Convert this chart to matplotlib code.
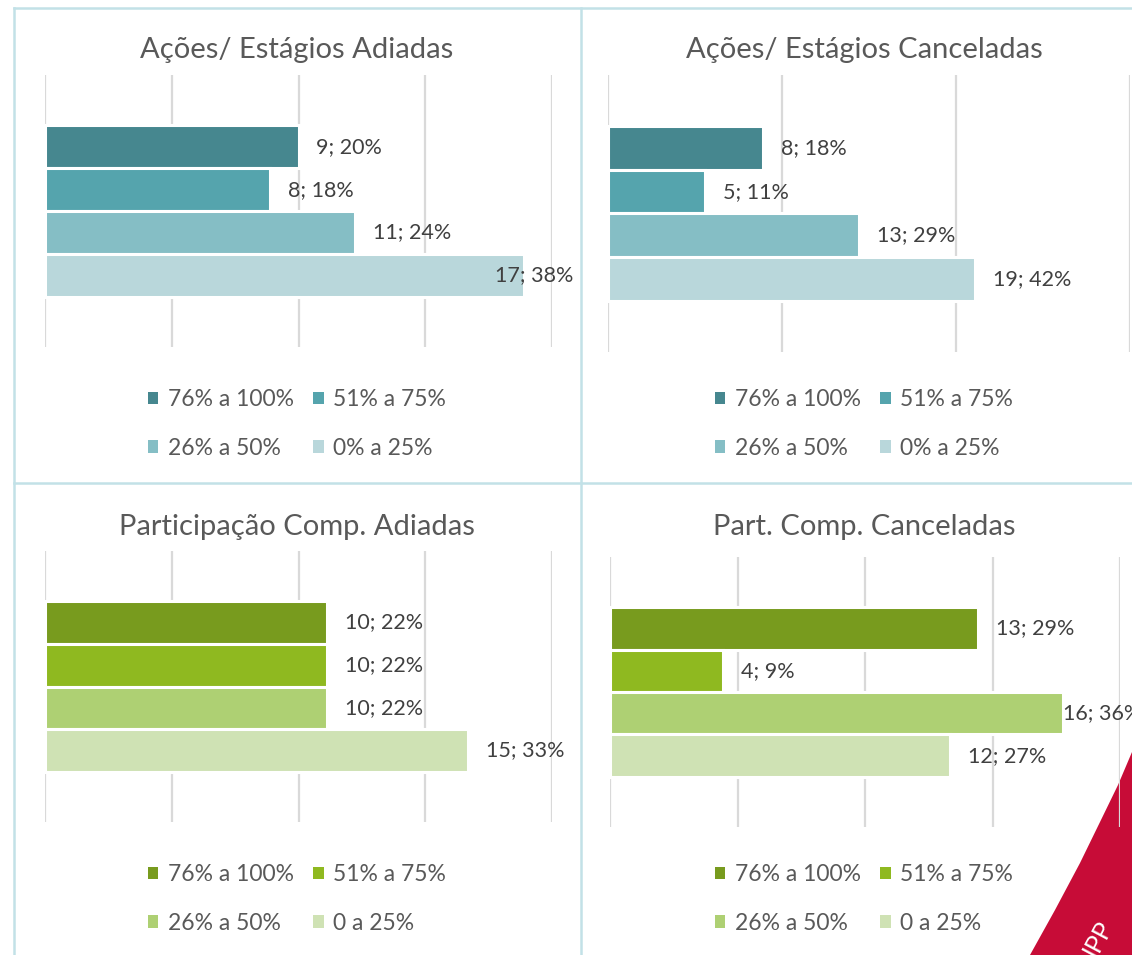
import matplotlib
matplotlib.use('Agg')
import matplotlib.pyplot as plt
from matplotlib.patches import Patch, Polygon
from matplotlib.lines import Line2D

plt.rcParams['font.family'] = ['Lato', 'DejaVu Sans']

# dados
faixas = ['76% a 100%', '51% a 75%', '26% a 50%', '0% a 25%']
faixas_part = ['76% a 100%', '51% a 75%', '26% a 50%', '0 a 25%']
acoes_adiadas = [9, 8, 11, 17]
acoes_canceladas = [8, 5, 13, 19]
part_adiadas = [10, 10, 10, 15]
part_canceladas = [13, 4, 16, 12]

cores_azul = ['#46878F', '#55A4AD', '#85BEC5', '#B9D7DB']
cores_verde = ['#789B1E', '#8FB920', '#AED073', '#CFE2B4']

W, H = 1132, 955
fig = plt.figure(figsize=(W / 100, H / 100), dpi=100)
fig.patch.set_facecolor('white')

def px(x0, y0, x1, y1):
    # retangulo em pixels (topo-esquerda) -> fracao da figura
    return [x0 / W, 1 - y1 / H, (x1 - x0) / W, (y1 - y0) / H]

# logotipo vermelho no canto
logo = Polygon([(1132 / W, 1 - 752 / H), (1118 / W, 1 - 785 / H), (1100 / W, 1 - 822 / H),
                (1080 / W, 1 - 863 / H), (1055 / W, 1 - 910 / H), (1030 / W, 0),
                (1, 0)], closed=True, transform=fig.transFigure,
               facecolor='#C70C37', edgecolor='none', zorder=-5)
fig.add_artist(logo)
fig.text(1099 / W, 1 - 960 / H, 'IPP', rotation=62, color='white', fontsize=18,
         ha='left', va='bottom', rotation_mode='anchor', zorder=-4)

paineis = [
    ('Ações/ Estágios Adiadas', acoes_adiadas, faixas, cores_azul,
     px(45, 75, 552, 347), 0.4, 0.1, 297, 50, 424),
    ('Ações/ Estágios Canceladas', acoes_canceladas, faixas, cores_azul,
     px(608, 75, 1130, 352), 0.6, 0.2, 864, 50, 424),
    ('Participação Comp. Adiadas', part_adiadas, faixas_part, cores_verde,
     px(45, 551, 552, 822), 0.4, 0.1, 297, 527, 899),
    ('Part. Comp. Canceladas', part_canceladas, faixas_part, cores_verde,
     px(610, 557, 1120, 827), 0.4, 0.1, 864, 527, 899),
]

rotulos = []
for titulo, valores, nomes, cores, rect, xmax, passo, cx, ty, ly in paineis:
    ax = fig.add_axes(rect)
    ax.set_facecolor('none')
    total = sum(valores)
    partes = [v / total for v in valores]
    pos = list(range(len(valores)))
    ax.barh(pos, partes, height=1.0, color=cores, edgecolor='white', linewidth=2.2, zorder=3)
    ax.set_xlim(0, xmax)
    ax.set_ylim(4.68, -1.68)
    n = int(round(xmax / passo))
    for k in range(n + 1):
        ax.axvline(k * passo, color='#D9D9D9', linewidth=1.6, zorder=1)
    for s in ax.spines.values():
        s.set_visible(False)
    ax.set_xticks([])
    ax.set_yticks([])
    for p, v, part in zip(pos, valores, partes):
        t = ax.text(part, p, f'{v}; {round(part * 100)}%', fontsize=15.5, color='#404040',
                    ha='left', va='center', zorder=4)
        rotulos.append((t, ax))

    fig.text(cx / W, 1 - ty / H, titulo, fontsize=21, color='#595959', ha='center', va='center')

    handles = [Patch(facecolor=c, edgecolor='none') for c in cores]
    ordem = [0, 2, 1, 3]
    fig.legend([handles[i] for i in ordem], [nomes[i] for i in ordem], ncol=2,
               loc='center', bbox_to_anchor=(cx / W, 1 - ly / H), frameon=False,
               fontsize=16.5, labelcolor='#595959', handlelength=0.45, handleheight=0.45,
               handletextpad=0.42, columnspacing=0.85, labelspacing=1.2)

# bordas dos paineis
cor_borda = '#C2E1E7'
for xs, ys in [([14, 1132], [8, 8]), ([14, 1132], [483, 483]),
               ([14, 14], [8, 955]), ([581, 581], [8, 955])]:
    fig.add_artist(Line2D([x / W for x in xs], [1 - y / H for y in ys],
                          color=cor_borda, linewidth=1.8, transform=fig.transFigure))

# posicionar rotulos: 18 px apos a barra, sem passar da area do grafico
fig.canvas.draw()
r = fig.canvas.get_renderer()
for t, ax in rotulos:
    bb = t.get_window_extent(r)
    x_bar = ax.transData.transform((t.get_position()[0], 0))[0]
    y_c = ax.transData.transform((0, t.get_position()[1]))[1]
    x0 = x_bar + 18
    lim = ax.get_window_extent(r).x1 + 21
    if x0 + bb.width > lim:
        x0 = lim - bb.width
    t.set_transform(fig.transFigure)
    t.set_position((x0 / W, y_c / H))

fig.savefig('out.png', dpi=100)
